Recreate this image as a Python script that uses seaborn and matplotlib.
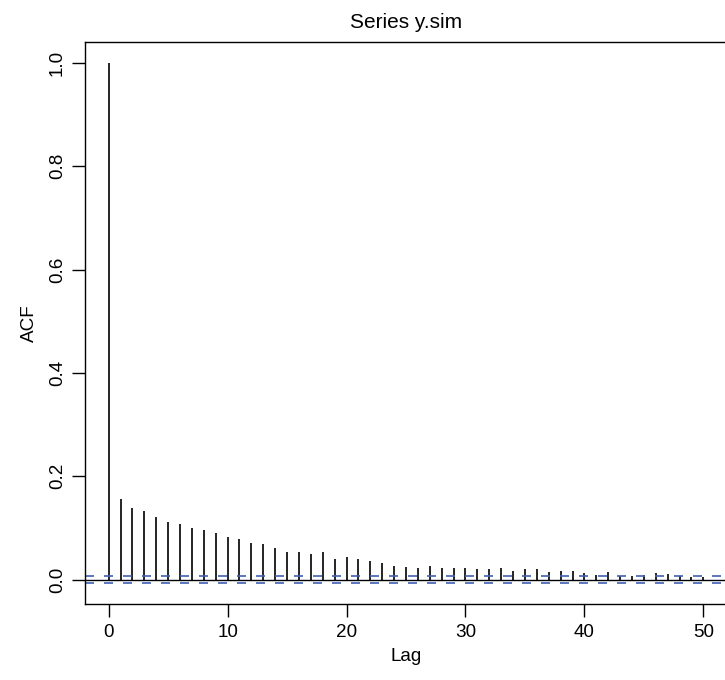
import numpy as np
import matplotlib
matplotlib.use("Agg")
import matplotlib.pyplot as plt
import seaborn as sb

# ACF values, lag 0..50
lags = list(range(0, 51))
acf_values = [1.0, 0.156, 0.139, 0.133, 0.122, 0.112, 0.108, 0.100, 0.095, 0.091,
              0.082, 0.078, 0.070, 0.069, 0.061, 0.054, 0.054, 0.050, 0.054, 0.040,
              0.043, 0.040, 0.036, 0.033, 0.026, 0.025, 0.023, 0.026, 0.023, 0.023,
              0.022, 0.020, 0.020, 0.023, 0.017, 0.020, 0.020, 0.014, 0.017, 0.017,
              0.013, 0.009, 0.015, 0.007, 0.007, 0.009, 0.012, 0.011, 0.006, 0.004,
              0.004]
ci_bound = 0.0062
y_ticks = [0.0, 0.2, 0.4, 0.6, 0.8, 1.0]
x_ticks = [0, 10, 20, 30, 40, 50]

sb.set_style("ticks")
plt.rcParams["font.family"] = ["Liberation Sans", "DejaVu Sans"]
plt.rcParams["text.color"] = "black"
plt.rcParams["axes.labelcolor"] = "black"

fig = plt.figure(figsize=(7.25, 6.8), dpi=100)
ax = fig.add_axes([0.117, 0.112, 0.886, 0.826])

ax.vlines(lags, 0, acf_values, color="black", linewidth=1.2)
ax.axhline(0, color="black", linewidth=1.0)
for b in (ci_bound, -ci_bound):
    ax.axhline(b, color="#4060b0", linewidth=1.2, linestyle=(0, (5.4, 6.0)))

ax.set_xlim(-2.0, 52.0)
ax.set_ylim(-0.047, 1.04)
ax.set_xticks(x_ticks)
ax.set_xticklabels([str(t) for t in x_ticks])
ax.set_yticks(y_ticks)
ax.set_yticklabels(["%.1f" % t for t in y_ticks], rotation=90, va="center")
ax.tick_params(direction="out", length=9.4, width=1, labelsize=13.6, colors="black")
ax.tick_params(axis="x", pad=5.3)
ax.tick_params(axis="y", pad=4.3)
for sp in ax.spines.values():
    sp.set_linewidth(1.0)
    sp.set_color("black")

ax.set_xlabel("Lag", fontsize=13.6, labelpad=4.5)
ax.set_ylabel("ACF", fontsize=13.6, labelpad=8)
ax.set_title("Series y.sim", fontsize=15, pad=10)

fig.savefig("out.png", dpi=100)
